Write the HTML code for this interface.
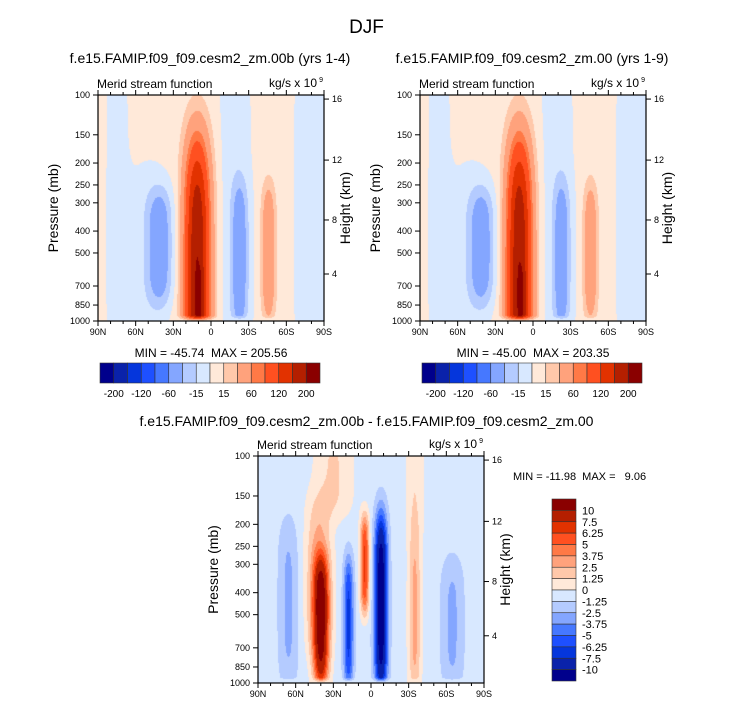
<!DOCTYPE html>
<html><head><meta charset="utf-8">
<style>
body{margin:0;background:#fff;}
#root{position:relative;width:733px;height:708px;overflow:hidden;font-family:"Liberation Sans",sans-serif;color:#000;}
.t{position:absolute;white-space:nowrap;}
canvas{position:absolute;}
svg{position:absolute;left:0;top:0;}
</style></head><body>
<div id="root">
<div class="t" style="left:0;width:733px;text-align:center;top:17px;font-size:19px;">DJF</div>
<div class="t" style="left:60px;width:300px;text-align:center;top:50px;font-size:14px;">f.e15.FAMIP.f09_f09.cesm2_zm.00b (yrs 1-4)</div>
<div class="t" style="left:382px;width:300px;text-align:center;top:50px;font-size:14px;">f.e15.FAMIP.f09_f09.cesm2_zm.00 (yrs 1-9)</div>
<div class="t" style="left:0;width:733px;text-align:center;top:413px;font-size:14px;">f.e15.FAMIP.f09_f09.cesm2_zm.00b - f.e15.FAMIP.f09_f09.cesm2_zm.00</div>
<canvas id="c0" width="226" height="226" style="left:98px;top:95px"></canvas>
<canvas id="c1" width="226" height="226" style="left:420px;top:95px"></canvas>
<canvas id="c2" width="226" height="227" style="left:258px;top:456px"></canvas>
<svg id="svg" width="733" height="708"></svg>
</div>
<script>
// ---- data ----
const topLevels=[-200,-160,-120,-80,-60,-30,-15,0,15,30,60,80,120,160,200];
const topLabels=["-200","-120","-60","-15","15","60","120","200"];
const diffLevels=[-10,-7.5,-6.25,-5,-3.75,-2.5,-1.25,0,1.25,2.5,3.75,5,6.25,7.5,10];
const diffLabels=["10","7.5","6.25","5","3.75","2.5","1.25","0","-1.25","-2.5","-3.75","-5","-6.25","-7.5","-10"];
const colors=["#00008c","#0a22aa","#0536dc","#1e50ff","#4678ff","#84a6ff","#b4cbff","#d8e8ff","#ffe9d9","#ffc8aa","#ffa27c","#ff7946","#ff5020","#e23200","#b41f00","#8a0000"];
const pressureTicks=[100,150,200,250,300,400,500,700,850,1000];
const heightTicks=[16,12,8,4];
const heightFrac=[0.018,0.288,0.553,0.792];
const latTicks=[90,60,30,0,-30,-60,-90];
const latLabels=["90N","60N","30N","0","30S","60S","90S"];
// circulation cells: lat, center pressure (mb), amplitude, lat width (deg), vertical half-width (log-frac)
const leftCellLat=[11,9,41,50,75,-23,-19,-46,-85];
const leftCellP=[700,760,470,500,320,520,320,500,320];
const leftCellAmp=[195,25,-45,-12,-12,-45,-12,50,-12];
const leftCellWLat=[10,3,10,18,9,6.5,14,5.6,20];
const leftCellWP=[0.65,0.12,0.26,0.42,1,0.34,0.9,0.31,1];
const rightCellLat=[11,9,41,50,75,-23,-19,-46,-85];
const rightCellP=[700,760,470,500,320,520,320,500,320];
const rightCellAmp=[193,24,-44,-12,-12,-44,-12,49,-12];
const rightCellWLat=[10,3,10,18,9,6.5,14,5.6,20];
const rightCellWP=[0.65,0.12,0.26,0.42,1,0.34,0.9,0.31,1];
const diffCellLat=[40,42,18,5,-8,-35,66,-65,30,-35];
const diffCellP=[550,350,550,300,450,500,450,550,120,120];
const diffCellAmp=[10.5,3.5,-6,7,-11.5,3.5,-2.2,-2.2,2,1.8];
const diffCellWLat=[6,10,4,3.5,5,5,8,9,15,7];
const diffCellWP=[0.3,0.35,0.3,0.22,0.4,0.38,0.38,0.3,0.2,0.3];
const diffBase=-0.6, topBase=5;

const svg=document.getElementById('svg');
const NS='http://www.w3.org/2000/svg';
function el(tag,attrs,parent){const e=document.createElementNS(NS,tag);for(const k in attrs)e.setAttribute(k,attrs[k]);(parent||svg).appendChild(e);return e;}
function yFracP(p){return Math.log10(1000/p);} // 0 at 1000, 1 at 100
function field(lat,yf,L,P,A,WL,WP,base){
  let v=base;
  for(let i=0;i<L.length;i++){
    const dl=(lat-L[i])/WL[i];
    const dp=(yf-yFracP(P[i]))/WP[i];
    v+=A[i]*Math.exp(-dl*dl)*Math.exp(-dp*dp*dp*dp);
  }
  return v*Math.min(1,yf*40+0.1);
}
function colorIdx(v,levels){let i=0;while(i<levels.length&&v>=levels[i])i++;return i;}
function drawField(id,L,P,A,WL,WP,base,levels,cols){
  const c=document.getElementById(id),ctx=c.getContext('2d');
  const W=c.width,H=c.height;const img=ctx.createImageData(W,H);
  const rgb=cols.map(h=>[parseInt(h.substr(1,2),16),parseInt(h.substr(3,2),16),parseInt(h.substr(5,2),16)]);
  for(let y=0;y<H;y++)for(let x=0;x<W;x++){
    const lat=90-180*x/(W-1);const yf=1-y/(H-1);
    const col=rgb[colorIdx(field(lat,yf,L,P,A,WL,WP,base),levels)];
    const k=(y*W+x)*4;img.data[k]=col[0];img.data[k+1]=col[1];img.data[k+2]=col[2];img.data[k+3]=255;
  }
  ctx.putImageData(img,0,0);
}
drawField('c0',leftCellLat,leftCellP,leftCellAmp,leftCellWLat,leftCellWP,topBase,topLevels,colors);
drawField('c1',rightCellLat,rightCellP,rightCellAmp,rightCellWLat,rightCellWP,topBase,topLevels,colors);
drawField('c2',diffCellLat,diffCellP,diffCellAmp,diffCellWLat,diffCellWP,diffBase,diffLevels,colors);

function txt(x,y,s,size,anchor,name,rot){
  const t=el('text',{x:x,y:y,'font-size':size,'text-anchor':anchor||'start','font-family':'Liberation Sans, sans-serif'});
  
  
  if(rot)t.setAttribute('transform','rotate(-90 '+x+' '+y+')');
  t.setAttribute('xml:space','preserve');
  t.style.whiteSpace='pre';
  t.textContent=s;return t;
}
function axes(x0,y0,W,H,pfx){
  const g=el('g',{});
  
  
  el('rect',{x:x0,y:y0,width:W,height:H,fill:'none',stroke:'#000','stroke-width':1.2},g);
  for(let l=90;l>=-90;l-=10){
    const x=x0+(90-l)/180*W;const maj=l%30===0;const len=maj?5:3;
    el('line',{x1:x,y1:y0+H,x2:x,y2:y0+H+len,stroke:'#000','stroke-width':1},g);
    el('line',{x1:x,y1:y0,x2:x,y2:y0-len,stroke:'#000','stroke-width':1},g);
  }
  latTicks.forEach((l,i)=>{const x=x0+(90-l)/180*W;txt(x,y0+H+14,latLabels[i],9,'middle',pfx+'-lat-label');});
  pressureTicks.forEach(p=>{const y=y0+H-yFracP(p)*H;
    el('line',{x1:x0-5,y1:y,x2:x0,y2:y,stroke:'#000','stroke-width':1},g);
    txt(x0-8,y+3,String(p),9,'end',pfx+'-pressure-label');});
  heightTicks.forEach((h,i)=>{const y=y0+heightFrac[i]*H;
    el('line',{x1:x0+W,y1:y,x2:x0+W+5,y2:y,stroke:'#000','stroke-width':1},g);
    txt(x0+W+8,y+3,String(h),9,'start',pfx+'-height-label');});
  txt(x0-40,y0+H/2,'Pressure (mb)',14,'middle',pfx+'-y-axis-title',true);
  txt(x0+W+26,y0+H/2,'Height (km)',14,'middle',pfx+'-right-axis-title',true);
  txt(x0-1,y0-7,'Merid stream function',12,'start',pfx+'-subtitle');
  txt(x0+W-7,y0-8,'kg/s x 10',12,'end',pfx+'-units');
  txt(x0+W-1,y0-13,'9',7,'end',pfx+'-units-exp');
}
axes(98,95,226,226,'left');
axes(420,95,226,226,'right');
axes(258,456,226,227,'diff');
txt(211,357,'MIN = -45.74  MAX = 205.56',12,'middle','left-min-max');
txt(533,357,'MIN = -45.00  MAX = 203.35',12,'middle','right-min-max');
txt(513,480,'MIN = -11.98  MAX =   9.06',11,'start','diff-min-max');

function hbar(x0,y0,W,H,pfx){
  const n=colors.length,bw=W/n;
  colors.forEach((c,i)=>{const r=el('rect',{x:x0+i*bw,y:y0,width:bw,height:H,fill:c,stroke:'#333','stroke-width':0.6});
    
    });
  topLabels.forEach((s,i)=>{const x=x0+(2*i+1)*bw;txt(x,y0+H+14,s,10,'middle',pfx+'-colorbar-label');});
}
hbar(100,363,220,20,'left');
hbar(422,363,220,20,'right');
(function(){
  const x0=552,y0=499,W=24,H=182,n=colors.length,bh=H/n;
  for(let i=0;i<n;i++){const r=el('rect',{x:x0,y:y0+i*bh,width:W,height:bh,fill:colors[n-1-i],stroke:'#333','stroke-width':0.6});
    
    }
  diffLabels.forEach((s,i)=>{txt(x0+W+6,y0+(i+1)*bh+4,s,11,'start','diff-colorbar-label');});
})();
</script>
</body></html>
